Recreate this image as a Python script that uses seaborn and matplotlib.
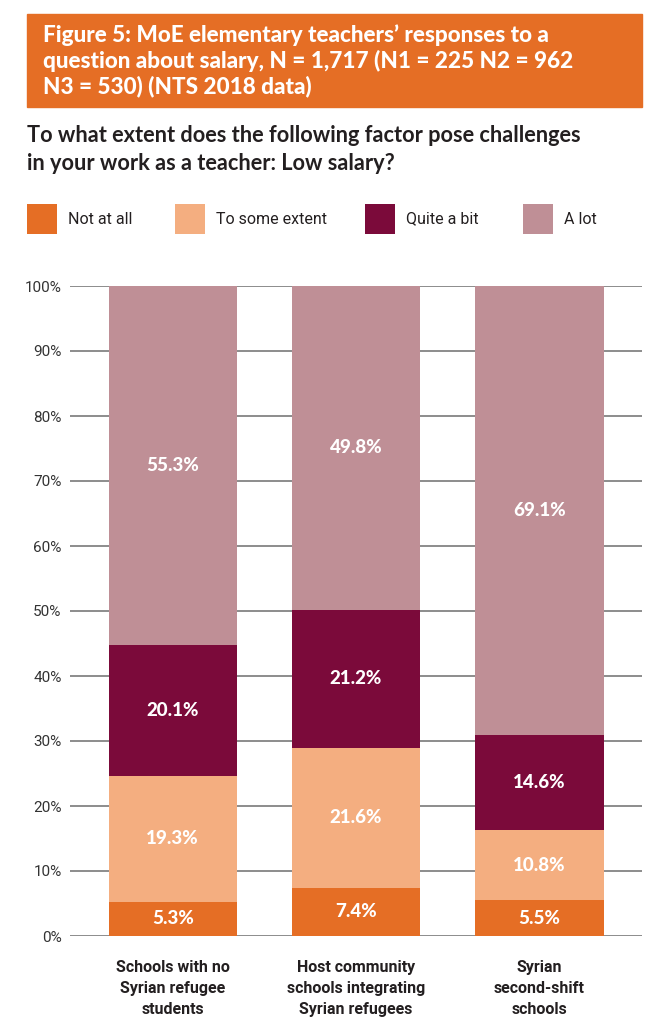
import numpy as np
import pandas as pd
import matplotlib
matplotlib.use('Agg')
import matplotlib.pyplot as plt
from matplotlib.patches import Rectangle
import seaborn as sns

# ── DATA ──────────────────────────────────────────────
schools = ['Schools with no\nSyrian refugee\nstudents',
           'Host community\nschools integrating\nSyrian refugees',
           'Syrian\nsecond-shift\nschools']
responses = ['Not at all', 'To some extent', 'Quite a bit', 'A lot']
not_at_all  = [5.3, 7.4, 5.5]
some_extent = [19.3, 21.6, 10.8]
quite_a_bit = [20.1, 21.2, 14.6]
a_lot       = [55.3, 49.8, 69.1]
yticks = [0, 10, 20, 30, 40, 50, 60, 70, 80, 90, 100]

colors = ['#E56E25', '#F4AE80', '#7B0A3A', '#BF8F96']

df = pd.DataFrame({'school': schools, 'Not at all': not_at_all,
                   'To some extent': some_extent, 'Quite a bit': quite_a_bit,
                   'A lot': a_lot})
cum = df[responses].cumsum(axis=1)
cum['school'] = df['school']

sns.set_style('white')
plt.rcParams['font.family'] = ['Lato', 'DejaVu Sans']

fig = plt.figure(figsize=(6.63, 10.24), dpi=100)
W, H = 663, 1024

# ── HEADER ────────────────────────────────────────────
fig.patches.append(Rectangle((27/W, 1-107/H), 615/W, 93/H, transform=fig.transFigure,
                             color='#E56E25', zorder=0))
title_lines = ["Figure 5: MoE elementary teachers\u2019 responses to a",
               "question about salary, N = 1,717 (N1 = 225 N2 = 962",
               "N3 = 530) (NTS 2018 data)"]
for k, line in enumerate(title_lines):
    fig.text(43/W, 1-(35+25.5*k)/H, line, color='white', fontsize=16.2,
             fontweight='black', va='center', ha='left')

sub_lines = ["To what extent does the following factor pose challenges",
             "in your work as a teacher: Low salary?"]
for k, line in enumerate(sub_lines):
    fig.text(27/W, 1-(135+29*k)/H, line, color='#231f20', fontsize=15.7,
             fontweight='bold', va='center', ha='left')

# ── LEGEND ────────────────────────────────────────────
leg_x = [27, 175, 365, 523]
for x0, lab, c in zip(leg_x, responses, colors):
    fig.patches.append(Rectangle((x0/W, 1-234/H), 30/W, 30/H, transform=fig.transFigure,
                                 color=c, lw=0))
    fig.text((x0+41)/W, 1-219/H, lab, fontsize=11.5, color='#231f20',
             va='center', ha='left', family=['Roboto', 'DejaVu Sans'])

# ── BARS ──────────────────────────────────────────────
ax = fig.add_axes([70/W, 1-936/H, 572/W, 650/H])
for resp, c in reversed(list(zip(responses, colors))):
    sns.barplot(data=cum, x='school', y=resp, color=c, saturation=1,
                width=0.70, linewidth=0, ax=ax, zorder=2)

for i in range(len(schools)):
    for resp in responses:
        v = df.loc[i, resp]
        mid = cum.loc[i, resp] - v / 2
        ax.text(i, mid, f"{v:.1f}%", ha='center', va='center', color='white',
                fontsize=13.5, fontweight='black', zorder=3)

ax.set_ylim(0, 100)
ax.set_xlim(-0.56, 2.56)
ax.set_yticks(yticks)
ax.set_yticklabels([f"{t}%" for t in yticks], fontsize=11, color='#333333',
                   family=['Roboto', 'DejaVu Sans'])
ax.yaxis.grid(True, color='#8c8c8c', lw=1.4, zorder=0)
ax.xaxis.grid(False)
ax.set_axisbelow(True)
for s in ax.spines.values():
    s.set_visible(False)
ax.tick_params(axis='both', length=0)
ax.tick_params(axis='y', pad=6)
ax.tick_params(axis='x', pad=17)
ax.set_xlabel('')
ax.set_ylabel('')
ax.set_xticks(range(len(schools)))
ax.set_xticklabels(schools, fontsize=11.5, fontweight='bold', color='#231f20',
                   linespacing=1.5, family=['Roboto', 'DejaVu Sans'])

fig.savefig('out.png', dpi=100)
